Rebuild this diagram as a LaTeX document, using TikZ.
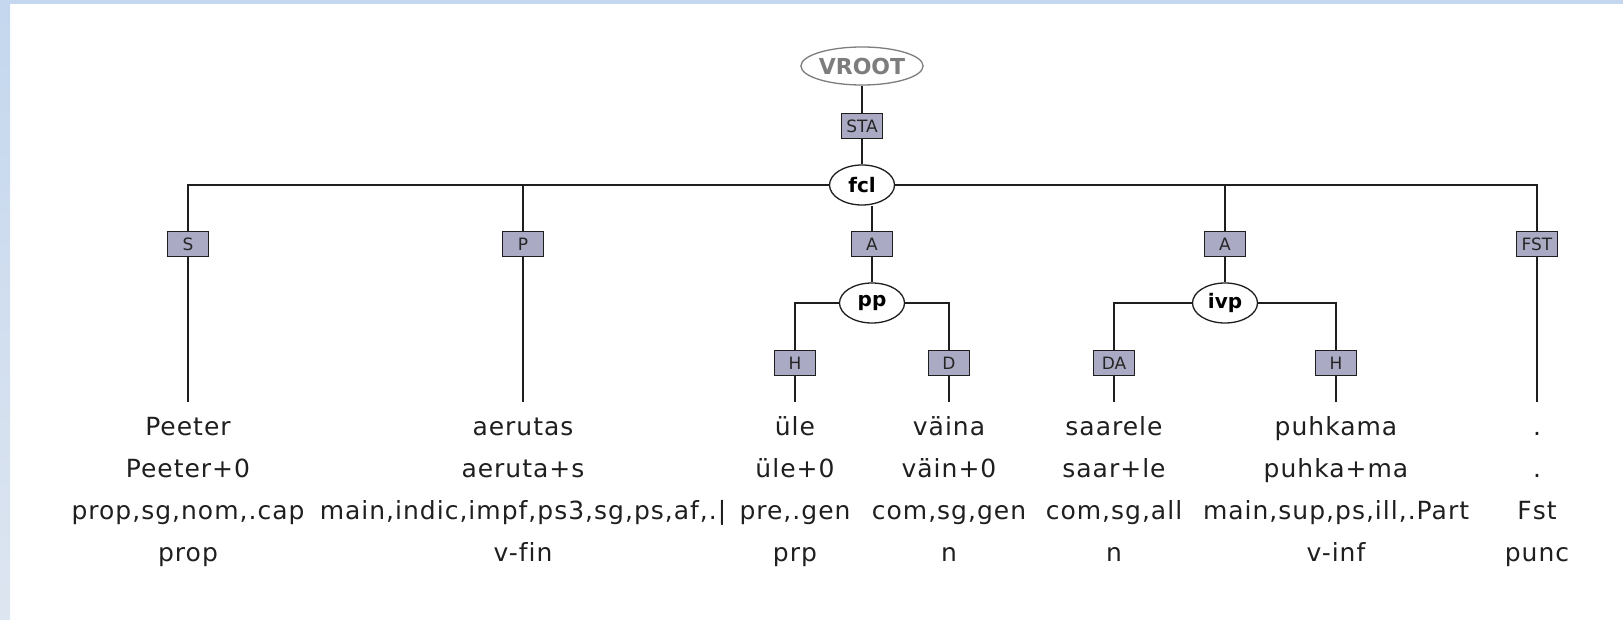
\documentclass[tikz,border=0pt]{standalone}
\usepackage{fontspec}
\setmainfont{DejaVu Sans}
\newfontfamily\leaffont[LetterSpace=4,Ligatures=NoCommon]{DejaVu Sans}
\usetikzlibrary{shapes.geometric}

\definecolor{labelfill}{RGB}{170,170,196}
\definecolor{edgeink}{RGB}{30,30,30}
\definecolor{rootgray}{RGB}{125,125,125}
\definecolor{bandtop}{RGB}{196,215,238}
\definecolor{bandbottom}{RGB}{221,229,240}

\newcommand{\leafrise}{\rule{0pt}{20pt}}

\tikzset{
  catnode/.style={ellipse, draw=edgeink, line width=1.3pt, fill=white,
    minimum width=65pt, minimum height=40pt, inner sep=0pt,
    font=\fontsize{20}{24}\selectfont\bfseries, text=black},
  rootnode/.style={catnode, draw=rootgray, text=rootgray,
    minimum width=112pt, minimum height=38pt,
    font=\fontsize{22}{26}\selectfont\bfseries},
  funclabel/.style={rectangle, draw=edgeink, line width=1.3pt, fill=labelfill,
    minimum width=41pt, minimum height=25pt, inner sep=0pt,
    font=\fontsize{17}{20}\selectfont, text=black!85},
  wordtext/.style={anchor=north, align=center, inner sep=0pt,
    font=\leaffont\fontsize{25}{42}\selectfont, text=black!88},
  branch/.style={draw=edgeink, line width=1.3pt}
}

\begin{document}
\begin{tikzpicture}[x=1pt,y=-1pt]
\useasboundingbox (0,0) rectangle (1623,620);
% window frame strips
\shade[top color=bandtop, bottom color=bandbottom] (0,0) rectangle (10,620);
\fill[bandtop] (0,0) rectangle (1623,4.3);

% root and sentence node
\node[rootnode] (vroot) at (862,66) {VROOT};
\node[funclabel] (sta) at (862,126) {STA};
\node[catnode] (fcl) at (862,185) {fcl};

% first level function labels
\node[funclabel] (lS) at (188,244) {S};
\node[funclabel] (lP) at (523,244) {P};
\node[funclabel] (lA1) at (872,244) {A};
\node[funclabel] (lA2) at (1225,244) {A};
\node[funclabel] (lFST) at (1537,244) {FST};

% phrase nodes
\node[catnode] (pp) at (872,303) {pp};
\node[catnode] (ivp) at (1225,303) {ivp};

% second level function labels
\node[funclabel] (lH1) at (795,363) {H};
\node[funclabel] (lD) at (949,363) {D};
\node[funclabel] (lDA) at (1114,363) {DA};
\node[funclabel] (lH2) at (1336,363) {H};

% terminal attachment points
\coordinate (t1) at (188,402);
\coordinate (t2) at (523,402);
\coordinate (t3) at (795,402);
\coordinate (t4) at (949,402);
\coordinate (t5) at (1114,402);
\coordinate (t6) at (1336,402);
\coordinate (t7) at (1537,402);

% branches
\draw[branch] (vroot) -- (sta) -- (fcl);
\draw[branch] (lS.north) |- (fcl.west);
\draw[branch] (lP.north) |- (fcl.west);
\draw[branch] (lFST.north) |- (fcl.east);
\draw[branch] (lA2.north) |- (fcl.east);
\draw[branch] (fcl.south -| lA1.north) -- (lA1);
\draw[branch] (lA1) -- (pp);
\draw[branch] (lA2) -- (ivp);
\draw[branch] (lH1.north) |- (pp.west);
\draw[branch] (lD.north) |- (pp.east);
\draw[branch] (lDA.north) |- (ivp.west);
\draw[branch] (lH2.north) |- (ivp.east);
\draw[branch] (lS) -- (t1);
\draw[branch] (lP) -- (t2);
\draw[branch] (lH1) -- (t3);
\draw[branch] (lD) -- (t4);
\draw[branch] (lDA) -- (t5);
\draw[branch] (lH2) -- (t6);
\draw[branch] (lFST) -- (t7);

% word, lemma, morphology and part of speech
\node[wordtext] (w1) at (188,415) {\leafrise Peeter\\Peeter+0\\prop,sg,nom,.cap\\prop};
\node[wordtext] (w2) at (523,415) {\leafrise aerutas\\aeruta+s\\main,indic,impf,ps3,sg,ps,af,.|\\v-fin};
\node[wordtext] (w3) at (795,415) {\leafrise üle\\üle+0\\pre,.gen\\prp};
\node[wordtext] (w4) at (949,415) {\leafrise väina\\väin+0\\com,sg,gen\\n};
\node[wordtext] (w5) at (1114,415) {\leafrise saarele\\saar+le\\com,sg,all\\n};
\node[wordtext] (w6) at (1336,415) {\leafrise puhkama\\puhka+ma\\main,sup,ps,ill,.Part\\v-inf};
\node[wordtext] (w7) at (1537,415) {\leafrise .\\.\\Fst\\punc};
\end{tikzpicture}
\end{document}
